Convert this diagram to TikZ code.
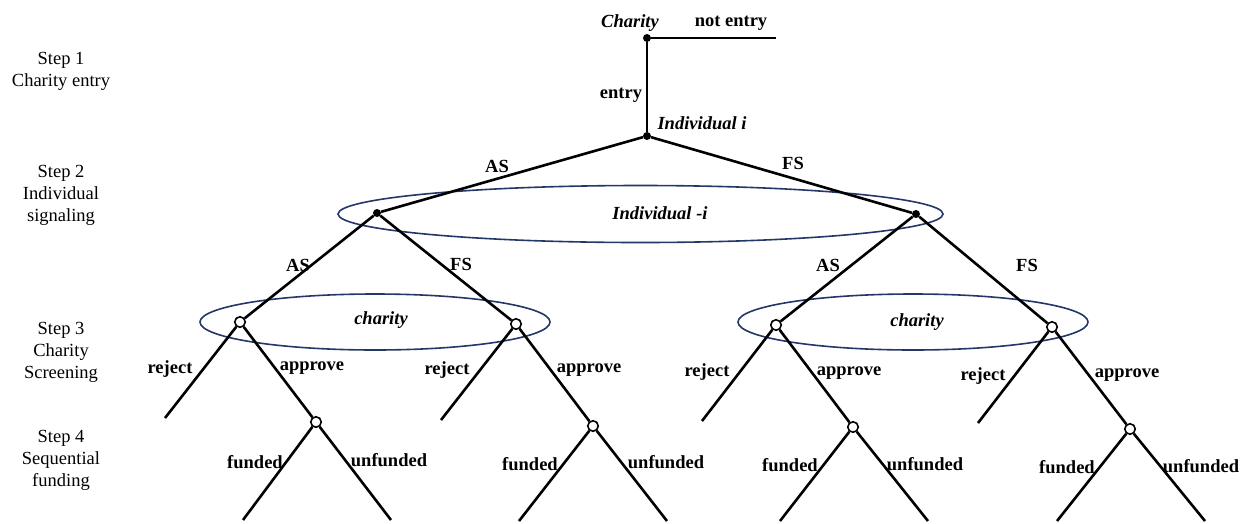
\documentclass[tikz,border=0pt]{standalone}
\usepackage{fontspec}
\setmainfont{Liberation Serif}
\definecolor{navy}{RGB}{35,55,105}
\begin{document}
\begin{tikzpicture}[x=1pt,y=-1pt,
 br/.style={line width=2.6pt},
 dotn/.style={circle,fill=black,inner sep=0pt,minimum size=8pt},
 opn/.style={circle,draw=black,fill=white,line width=1.6pt,inner sep=0pt,minimum size=10.5pt},
 lab/.style={font=\fontsize{18.5}{20}\selectfont\bfseries, inner sep=0pt},
 ilab/.style={font=\fontsize{18.5}{20}\selectfont\bfseries\itshape, inner sep=0pt},
 steplab/.style={font=\fontsize{18.5}{22}\selectfont, align=center, inner sep=0pt},
 info/.style={draw=navy, line width=1.6pt}]
\useasboundingbox (0,0) rectangle (1242,523);
% information sets
\draw[info] (640.5,214) ellipse [x radius=302.5pt, y radius=28.5pt];
\draw[info] (375,322) ellipse [x radius=175pt, y radius=28pt];
\draw[info] (913,322) ellipse [x radius=175pt, y radius=28pt];
% step labels
\node[steplab] (s1) at (61,71) {Step 1\\Charity entry};
\node[steplab] (s2) at (61,195) {Step 2\\Individual\\signaling};
\node[steplab] (s3) at (61,352) {Step 3\\Charity\\Screening};
\node[steplab] (s4) at (61,460) {Step 4\\Sequential\\funding};
% decision nodes
\node[dotn] (c) at (647,38) {};
\coordinate (ne) at (776,38);
\node[dotn] (i) at (647,136) {};
\node[dotn] (L) at (377,213) {};
\node[dotn] (R) at (916,214) {};
\node[opn] (LL) at (240,322) {};
\node[opn] (LR) at (516,324) {};
\node[opn] (RL) at (776,325) {};
\node[opn] (RR) at (1052,327) {};
\node[opn] (LLa) at (316,422) {};
\node[opn] (LRa) at (593,426) {};
\node[opn] (RLa) at (853,427) {};
\node[opn] (RRa) at (1130,429) {};
\coordinate (LLr) at (165,418);
\coordinate (LRr) at (441,420);
\coordinate (RLr) at (702,421);
\coordinate (RRr) at (978,423);
\coordinate (LLf) at (243,520);
\coordinate (LLu) at (391,520);
\coordinate (LRf) at (519,521);
\coordinate (LRu) at (667,521);
\coordinate (RLf) at (780,521);
\coordinate (RLu) at (928,521);
\coordinate (RRf) at (1057,521);
\coordinate (RRu) at (1205,521);
% branches
\draw[br] (c) -- (ne);
\draw[br] (c) -- (i);
\draw[br] (i) -- (L);
\draw[br] (i) -- (R);
\draw[br] (L) -- (LL);
\draw[br] (L) -- (LR);
\draw[br] (R) -- (RL);
\draw[br] (R) -- (RR);
\foreach \n in {LL,LR,RL,RR}{
  \draw[br] (\n) -- (\n r);
  \draw[br] (\n) -- (\n a);
  \draw[br] (\n a) -- (\n f);
  \draw[br] (\n a) -- (\n u);
}
% labels
\node[ilab] (tc) at (630,23) {Charity};
\node[lab] (tne) at (731,23) {not entry};
\node[lab] (te) at (621,95) {entry};
\node[ilab] (ti) at (702,123) {Individual i};
\node[lab] (tas) at (497,166) {AS};
\node[lab] (tfs) at (793,163) {FS};
\node[ilab] (tmi) at (660,213) {Individual -i};
\node[lab] (tas2) at (298,265) {AS};
\node[lab] (tfs2) at (461,264) {FS};
\node[lab] (tas3) at (828,265) {AS};
\node[lab] (tfs3) at (1027,265) {FS};
\node[ilab] (tch1) at (381,320) {charity};
\node[ilab] (tch2) at (917,322) {charity};
\node[lab] at (170,369) {reject};
\node[lab] at (312,368) {approve};
\node[lab] at (447,370) {reject};
\node[lab] at (589,370) {approve};
\node[lab] at (707,372) {reject};
\node[lab] at (849,373) {approve};
\node[lab] at (983,376) {reject};
\node[lab] at (1127,375) {approve};
\node[lab] at (255,462) {funded};
\node[lab] at (389,460) {unfunded};
\node[lab] at (530,464) {funded};
\node[lab] at (666,462) {unfunded};
\node[lab] at (790,465) {funded};
\node[lab] at (925,464) {unfunded};
\node[lab] at (1067,467) {funded};
\node[lab] at (1201,466) {unfunded};
\end{tikzpicture}
\end{document}
